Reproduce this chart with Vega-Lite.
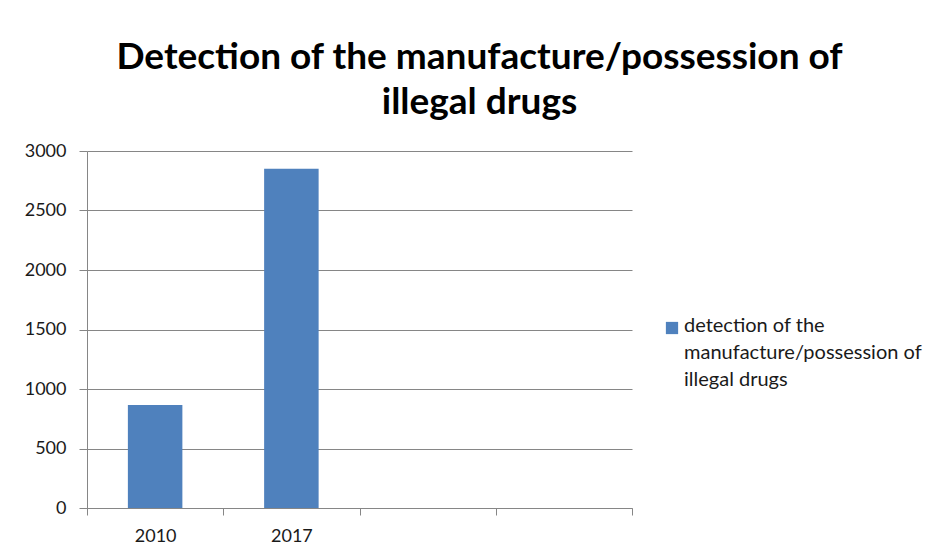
{
  "$schema": "https://vega.github.io/schema/vega-lite/v6.json",
  "width": 545,
  "height": 357,
  "autosize": "none",
  "padding": {"left": 87, "top": 151, "right": 316, "bottom": 51},
  "background": "white",
  "title": {
    "text": ["Detection of the manufacture/possession of", "illegal drugs"],
    "anchor": "middle",
    "frame": "group",
    "dx": 120,
    "offset": 20,
    "font": "Lato",
    "fontSize": 37,
    "fontWeight": "bold",
    "color": "#000000",
    "lineHeight": 45
  },
  "data": {
    "values": [
      {"year": "2010", "value": 865, "series": "detection of the manufacture/possession of illegal drugs"},
      {"year": "2017", "value": 2850, "series": "detection of the manufacture/possession of illegal drugs"}
    ]
  },
  "mark": {"type": "bar", "width": {"band": 0.4}},
  "encoding": {
    "x": {
      "field": "year",
      "type": "nominal",
      "scale": {"domain": ["2010", "2017", "c3", "c4"], "paddingInner": 0, "paddingOuter": 0},
      "axis": {
        "title": null,
        "labelAngle": 0,
        "labelExpr": "datum.label == 'c3' || datum.label == 'c4' ? '' : datum.label",
        "tickBand": "extent",
        "domainColor": "#868686",
        "tickColor": "#868686",
        "tickSize": 7,
        "labelPadding": 12,
        "labelFont": "Lato",
        "labelFontSize": 18,
        "labelColor": "#1a1a1a",
        "grid": false
      }
    },
    "y": {
      "field": "value",
      "type": "quantitative",
      "scale": {"domain": [0, 3000], "nice": false},
      "axis": {
        "title": null,
        "format": "d",
        "values": [0, 500, 1000, 1500, 2000, 2500, 3000],
        "grid": true,
        "gridColor": "#868686",
        "domainColor": "#868686",
        "tickColor": "#868686",
        "tickSize": 8,
        "labelPadding": 13,
        "labelFont": "Lato",
        "labelFontSize": 18,
        "labelColor": "#1a1a1a"
      }
    },
    "color": {
      "field": "series",
      "type": "nominal",
      "scale": {"range": ["#4F81BD"]},
      "legend": {
        "title": null,
        "orient": "none",
        "legendX": 575,
        "legendY": 167,
        "symbolType": "square",
        "symbolSize": 150,
        "symbolStrokeWidth": 0,
        "labelFont": "Lato",
        "labelFontSize": 20,
        "labelColor": "#1a1a1a",
        "labelLimit": 300,
        "labelOffset": 2,
        "labelBaseline": "top",
        "labelExpr": "['detection of the', 'manufacture/possession of', 'illegal drugs']",
        "encode": {"labels": {"update": {"dy": {"value": -12}, "lineHeight": {"value": 27}}}}
      }
    }
  },
  "config": {
    "view": {"stroke": null},
    "axis": {"domainWidth": 1, "gridWidth": 1}
  }
}
